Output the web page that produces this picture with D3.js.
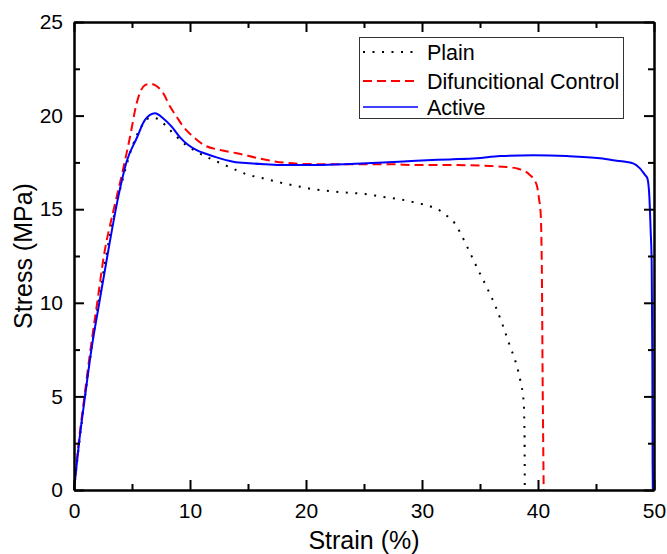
<!DOCTYPE html>
<html>
<head>
    <title>Stress Strain</title>
    <style>
        body { margin: 0; background: #fff; }
        svg { display: block; font-family: "Liberation Sans", Arial, sans-serif; }
        .axis path, .axis line { stroke: #000; stroke-width: 2px; }
        .axis text { font-size: 21px; fill: #000; }
    </style>
    <script src="https://d3js.org/d3.v7.min.js"></script>
</head>
<body>
<script type="text/javascript">

    // series data
    var plainStrain = [0, 0.45, 0.95, 1.5, 2.1, 2.8, 3.5, 4.2, 5.0, 5.8, 6.6, 7.3, 8.0, 8.8, 9.6, 10.5, 11.4, 12.3, 13.45,
        14.9, 16.3, 17.8, 19.2, 20.7, 22.2, 23.6, 25.1, 26.5, 28.0, 29.4, 30.06, 30.8, 31.55, 32.2, 32.84, 33.28, 34.08,
        34.83, 35.6, 36.35, 36.96, 37.53, 38.1, 38.5, 38.76, 38.84, 38.86];
    var plainStress = [0, 2.5, 5.0, 7.5, 10.0, 12.6, 14.8, 16.6, 18.3, 19.4, 19.9, 19.8, 19.4, 18.9, 18.45, 18.1, 17.8, 17.55, 17.24,
        16.86, 16.65, 16.42, 16.24, 16.06, 15.96, 15.88, 15.81, 15.67, 15.54, 15.36, 15.26, 15.13, 14.92, 14.62, 14.23, 13.76, 12.75,
        11.77, 10.81, 9.79, 8.8, 7.78, 6.78, 5.77, 4.74, 3.0, 0];

    var controlStrain = [0, 0.4, 0.9, 1.42, 2.0, 2.6, 3.39, 4.11, 4.83, 5.4, 6.12, 6.6, 6.98, 7.7, 8.28, 8.85, 9.42, 10.28,
        11.15, 12.59, 14.03, 16.03, 18.04, 20.34, 22.64, 24.94, 27.24, 29.54, 32.4, 35.86, 37.3, 38.16, 39.3, 39.89, 40.1,
        40.23, 40.34, 40.4, 40.45, 40.49];
    var controlStress = [0, 2.5, 5.0, 7.5, 10.0, 12.6, 14.9, 16.8, 18.87, 20.66, 21.63, 21.7, 21.63, 21.19, 20.48, 19.94, 19.41, 18.87,
        18.45, 18.16, 17.99, 17.7, 17.49, 17.41, 17.4, 17.4, 17.4, 17.36, 17.36, 17.31, 17.25, 17.18, 16.83, 16.29, 15.5,
        14.78, 11.22, 5.88, 2.5, 0];

    var activeStrain = [0, 0.43, 0.95, 1.5, 2.18, 3.1, 3.82, 4.54, 5.4, 6.12, 6.98, 7.7, 8.42, 9.14, 9.85, 10.57, 11.43, 12.3,
        13.73, 15.17, 16.5, 18.04, 20.9, 23.8, 26.66, 29.5, 32.4, 34.7, 36.72, 39.6, 42.47, 45.34, 46.78, 48.2, 48.79, 49.22,
        49.43, 49.6, 49.71, 49.8, 49.86, 49.88, 49.9];
    var activeStress = [0, 2.5, 5.0, 7.5, 10.0, 13.3, 15.67, 17.55, 18.79, 19.77, 20.12, 19.85, 19.41, 18.84, 18.43, 18.16, 17.95, 17.77,
        17.54, 17.45, 17.4, 17.36, 17.36, 17.41, 17.49, 17.59, 17.66, 17.72, 17.84, 17.88, 17.84, 17.72, 17.59, 17.45, 17.18, 16.83,
        16.65, 15.67, 13.89, 12.11, 6.77, 1.42, 0];

    var seriesNames = ['Plain', 'Difuncitional Control', 'Active'];
    var xMajorTicks = [0, 10, 20, 30, 40, 50];
    var xMinorTicks = [5, 15, 25, 35, 45];
    var yMajorTicks = [0, 5, 10, 15, 20, 25];
    var yMinorTicks = [2.5, 7.5, 12.5, 17.5, 22.5];

    var series = [
        {name: seriesNames[0], x: plainStrain, y: plainStress, color: '#000', dash: '2,7.5'},
        {name: seriesNames[1], x: controlStrain, y: controlStress, color: '#ff0000', dash: '9,5'},
        {name: seriesNames[2], x: activeStrain, y: activeStress, color: '#0000ff', dash: null}
    ];

    var W = 667, H = 554;
    var margin = {top: 22, right: 13, bottom: 64, left: 74};
    var w = W - margin.left - margin.right,
        h = H - margin.top - margin.bottom;

    var svg = d3.select('body').append('svg')
        .attr('width', W)
        .attr('height', H);

    var g = svg.append('g')
        .attr('transform', 'translate(' + margin.left + ',' + margin.top + ')');

    var x = d3.scaleLinear().domain([0, 50]).range([0, w]);
    var y = d3.scaleLinear().domain([0, 25]).range([h, 0]);

    // curves
    var line = d3.line()
        .x(function(d) { return x(d[0]); })
        .y(function(d) { return y(d[1]); })
        .curve(d3.curveMonotoneX);

    series.forEach(function(s) {
        g.append('path')
            .datum(d3.zip(s.x, s.y))
            .attr('d', line)
            .attr('fill', 'none')
            .attr('stroke', s.color)
            .attr('stroke-width', 2)
            .attr('stroke-dasharray', s.dash);
    });

    // axes, ticks point inward
    function addAxis(axisFn, scale, ticks, size, padding, transform) {
        var a = axisFn(scale).tickValues(ticks).tickSizeInner(size).tickSizeOuter(0);
        if (padding) {
            a.tickFormat(d3.format('d')).tickPadding(padding);
        } else {
            a.tickFormat('');
        }
        return g.append('g').attr('class', 'axis').attr('transform', transform || null).call(a);
    }

    addAxis(d3.axisBottom, x, xMinorTicks, -6, 0, 'translate(0,' + h + ')');
    addAxis(d3.axisBottom, x, xMajorTicks, -10, 13, 'translate(0,' + h + ')');
    addAxis(d3.axisTop, x, xMinorTicks, -6, 0);
    addAxis(d3.axisTop, x, xMajorTicks, -10, 0);

    addAxis(d3.axisLeft, y, yMinorTicks, -6, 0);
    addAxis(d3.axisLeft, y, yMajorTicks, -10, 11);
    addAxis(d3.axisRight, y, yMinorTicks, -6, 0, 'translate(' + w + ',0)');
    addAxis(d3.axisRight, y, yMajorTicks, -10, 0, 'translate(' + w + ',0)');

    d3.selectAll('.axis path, .axis line').attr('stroke', '#000').attr('stroke-width', 2);
    d3.selectAll('.axis text').style('font-size', '21px').attr('font-family', null);

    // axis titles
    svg.append('text')
        .attr('x', margin.left + w / 2)
        .attr('y', 549)
        .attr('text-anchor', 'middle')
        .style('font-size', '25px')
        .text('Strain (%)');

    svg.append('text')
        .attr('transform', 'translate(32,' + (margin.top + h / 2) + ') rotate(-90)')
        .attr('text-anchor', 'middle')
        .style('font-size', '25px')
        .text('Stress (MPa)');

    // legend
    var legend = svg.append('g');
    legend.append('rect')
        .attr('x', 359.5).attr('y', 37.5)
        .attr('width', 264).attr('height', 81)
        .attr('fill', '#fff')
        .attr('stroke', '#333')
        .attr('stroke-width', 1);

    var rowY = [52, 81, 107];
    series.forEach(function(s, i) {
        legend.append('line')
            .attr('x1', 363).attr('x2', 418)
            .attr('y1', rowY[i]).attr('y2', rowY[i])
            .attr('stroke', s.color)
            .attr('stroke-width', s.dash ? 2 : 1.5)
            .attr('stroke-dasharray', s.dash);
        legend.append('text')
            .attr('x', 427)
            .attr('y', rowY[i])
            .attr('dy', '0.35em')
            .style('font-size', '21.5px')
            .text(s.name);
    });

</script>
</body>
</html>
